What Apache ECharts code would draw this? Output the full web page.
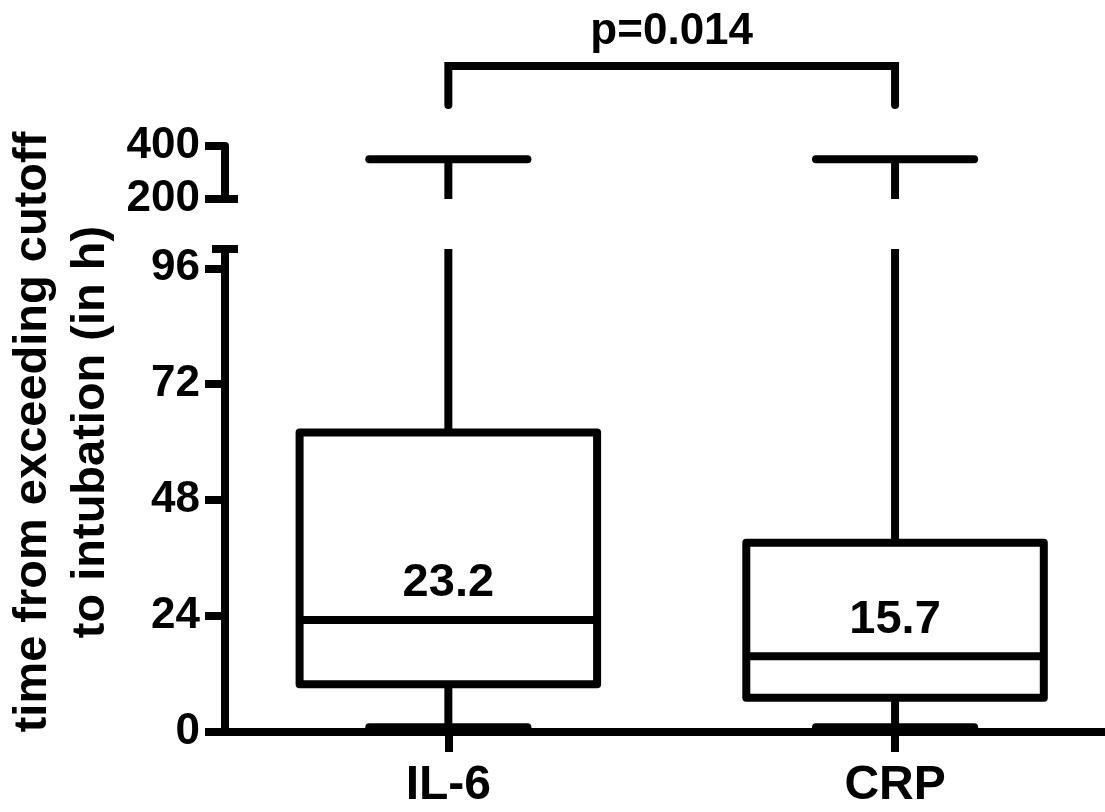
<!DOCTYPE html>
<html><head><meta charset="utf-8">
<script src="https://cdn.jsdelivr.net/npm/echarts@6/dist/echarts.min.js"></script>
<style>html,body{margin:0;padding:0;background:#fff}#c{width:1105px;height:812px}</style>
</head><body><div id="c"></div>
<script>
// ---- data ----
const categories = ['IL-6', 'CRP'];
const whiskerMin = [1, 1];
const q1 = [9.9, 7.1];
const medians = [23.2, 15.7];
const q3 = [62, 39.2];
const whiskerMax = [350, 350];
const medianLabels = ['23.2', '15.7'];
const lowerTicks = [0, 24, 48, 72, 96];
const upperTicks = [200, 400];
const pValueText = 'p=0.014';
const yTitle = ['time from exceeding cutoff', 'to intubation (in h)'];

// ---- layout / style ----
const LOW_MAX = 100, UP_MIN = 200, UP_MAX = 400;
const X_MIN = 0.5, X_MAX = 2.47;
const FONT = '"Liberation Sans", Arial, Helvetica, sans-serif';
const LW = 8;
const BOX_HALF = 0.333, CAP_HALF = 0.177;
const catPos = categories.map((c, i) => i + 1);

const boxData = categories.map((c, i) => [catPos[i], whiskerMin[i], q1[i], medians[i], q3[i], whiskerMax[i], i]);

function line(p1, p2, cap) {
  return { type: 'line', shape: { x1: p1[0], y1: p1[1], x2: p2[0], y2: p2[1] },
    style: { stroke: '#000', lineWidth: LW, lineCap: cap || 'butt' } };
}

function renderLower(params, api) {
  const x = api.value(0), mn = api.value(1), a = api.value(2), md = api.value(3), b = api.value(4), mx = api.value(5), idx = api.value(6);
  const tl = api.coord([x - BOX_HALF, b]), br = api.coord([x + BOX_HALF, a]);
  const children = [];
  children.push({ type: 'rect', shape: { x: tl[0], y: tl[1], width: br[0] - tl[0], height: br[1] - tl[1] },
    style: { stroke: '#000', fill: 'none', lineWidth: LW, lineJoin: 'round' } });
  children.push(line(api.coord([x - BOX_HALF, md]), api.coord([x + BOX_HALF, md])));
  children.push(line(api.coord([x, a]), api.coord([x, mn])));
  children.push(line(api.coord([x - CAP_HALF, mn]), api.coord([x + CAP_HALF, mn]), 'round'));
  children.push(line(api.coord([x, b]), api.coord([x, Math.min(mx, LOW_MAX)])));
  if (mx <= LOW_MAX) children.push(line(api.coord([x - CAP_HALF, mx]), api.coord([x + CAP_HALF, mx]), 'round'));
  const mp = api.coord([x, md]);
  children.push({ type: 'text', x: mp[0], y: mp[1] - 13,
    style: { text: medianLabels[idx], fill: '#000', font: 'bold 47px ' + FONT, align: 'center', verticalAlign: 'bottom' } });
  return { type: 'group', children };
}

function renderUpper(params, api) {
  const x = api.value(0), mx = api.value(5);
  const children = [];
  if (mx > UP_MIN) {
    children.push(line(api.coord([x, UP_MIN]), api.coord([x, Math.min(mx, UP_MAX)])));
    children.push(line(api.coord([x - CAP_HALF, mx]), api.coord([x + CAP_HALF, mx]), 'round'));
  }
  return { type: 'group', children };
}

const axisLineStyle = { show: true, onZero: false, lineStyle: { color: '#000', width: LW } };
const labelStyle = (size) => ({ color: '#000', fontSize: size, fontWeight: 'bold', fontFamily: FONT });

const chart = echarts.init(document.getElementById('c'), null, { renderer: 'canvas' });
chart.setOption({
  animation: false,
  backgroundColor: '#fff',
  grid: [
    { left: 225, right: 0, top: 249, bottom: 80 },
    { left: 225, right: 0, top: 146, height: 53 }
  ],
  xAxis: [
    { type: 'value', gridIndex: 0, min: X_MIN, max: X_MAX,
      axisLine: axisLineStyle,
      axisTick: { show: true, customValues: catPos, length: 20, lineStyle: { color: '#000', width: LW } },
      axisLabel: Object.assign({ customValues: catPos, margin: 30,
        formatter: v => categories[Math.round(v) - 1] || '' }, labelStyle(48)),
      splitLine: { show: false } },
    { type: 'value', gridIndex: 1, min: X_MIN, max: X_MAX, show: false, splitLine: { show: false } }
  ],
  yAxis: [
    { type: 'value', gridIndex: 0, min: 0, max: LOW_MAX, interval: 24,
      axisLine: axisLineStyle,
      axisTick: { show: true, customValues: lowerTicks, length: 20, lineStyle: { color: '#000', width: LW } },
      axisLabel: Object.assign({ customValues: lowerTicks, margin: 25 }, labelStyle(44)),
      splitLine: { show: false } },
    { type: 'value', gridIndex: 1, min: UP_MIN, max: UP_MAX, interval: 200,
      axisLine: axisLineStyle,
      axisTick: { show: true, customValues: upperTicks, length: 20, lineStyle: { color: '#000', width: LW } },
      axisLabel: Object.assign({ customValues: upperTicks, margin: 25 }, labelStyle(44)),
      splitLine: { show: false } }
  ],
  series: [
    { type: 'custom', xAxisIndex: 0, yAxisIndex: 0, renderItem: renderLower, data: boxData, z: 5, silent: true },
    { type: 'custom', xAxisIndex: 1, yAxisIndex: 1, renderItem: renderUpper, data: boxData, z: 5, silent: true }
  ]
});

// ---- annotations placed from axis pixel positions ----
const xa = chart.convertToPixel({ xAxisIndex: 1 }, catPos[0]);
const xb = chart.convertToPixel({ xAxisIndex: 1 }, catPos[1]);
const axisX = chart.convertToPixel({ xAxisIndex: 0 }, X_MIN);
const yLowTop = chart.convertToPixel({ yAxisIndex: 0 }, LOW_MAX);
const yUpBottom = chart.convertToPixel({ yAxisIndex: 1 }, UP_MIN);
const yUpTop = chart.convertToPixel({ yAxisIndex: 1 }, UP_MAX);
const brY = yUpTop - 80, legY = yUpTop - 41;
chart.setOption({
  graphic: [
    { type: 'polyline', shape: { points: [[xa, legY], [xa, brY], [xb, brY], [xb, legY]] },
      style: { stroke: '#000', lineWidth: LW, fill: 'none', lineCap: 'round', lineJoin: 'miter' }, z: 10 },
    { type: 'text', x: (xa + xb) / 2, y: brY - 12,
      style: { text: pValueText, fill: '#000', font: 'bold 44px ' + FONT, align: 'center', verticalAlign: 'bottom' }, z: 10 },
    { type: 'line', shape: { x1: axisX - 13, y1: yLowTop, x2: axisX + 13, y2: yLowTop },
      style: { stroke: '#000', lineWidth: LW }, z: 10 },
    { type: 'line', shape: { x1: axisX, y1: yUpBottom, x2: axisX + 13, y2: yUpBottom },
      style: { stroke: '#000', lineWidth: LW }, z: 10 },
    { type: 'text', x: 62, y: 432, rotation: Math.PI / 2,
      style: { text: yTitle.join('\n'), fill: '#000', font: 'bold 47px ' + FONT, lineHeight: 58,
        align: 'center', verticalAlign: 'middle' }, z: 10 }
  ]
});
</script>
</body></html>
